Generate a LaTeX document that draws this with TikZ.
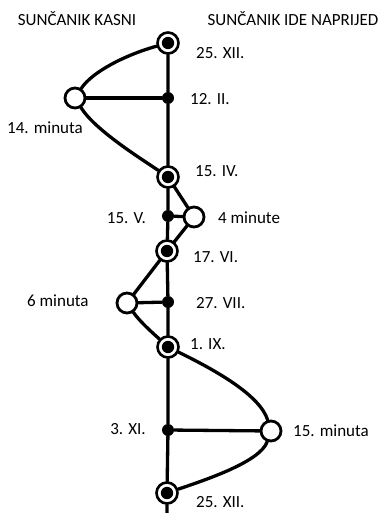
\documentclass[tikz,border=0pt]{standalone}
\usepackage{fontspec}
\setmainfont{Carlito}
\begin{document}
\begin{tikzpicture}[x=1pt,y=-1pt,
  ln/.style={line width=3.3pt, line cap=round},
  big/.style={circle, draw=black, line width=2.6pt, fill=white, minimum size=21pt, inner sep=0pt,
    path picture={\fill[black] (path picture bounding box.center) circle (6.2pt);}},
  blackdot/.style={circle, fill=black, minimum size=12pt, inner sep=0pt},
  wc/.style={circle, draw=black, line width=2.8pt, fill=white, minimum size=20pt, inner sep=0pt},
  lbl/.style={font=\fontsize{17}{19}\selectfont, inner sep=0pt}]
\useasboundingbox (0,0) rectangle (386,513);
% nodes
\node[big] (t1) at (168,43) {};
\node[blackdot] (d1) at (168,98) {};
\node[wc] (w1) at (75,98) {};
\node[big] (t2) at (168,177) {};
\node[blackdot] (d2) at (168,216) {};
\node[wc] (w2) at (194,217) {};
\node[big] (t3) at (167,251) {};
\node[blackdot] (d3) at (168,302) {};
\node[wc] (w3) at (127,303) {};
\node[big] (t4) at (168,347) {};
\node[blackdot] (d4) at (168,430) {};
\node[wc] (w4) at (271,431) {};
\node[big] (t5) at (167,493) {};
\coordinate (bot) at (167,515);
% axis
\draw[ln] (t1) -- (d1) -- (t2) -- (d2) -- (t3) -- (d3) -- (t4) -- (d4) -- (t5) -- (bot);
% horizontals
\draw[ln] (d1) -- (w1);
\draw[ln] (d2) -- (w2);
\draw[ln] (d3) -- (w3);
\draw[ln] (d4) -- (w4);
% loops
\draw[ln] (t1) .. controls (125,55) and (92,72) .. (w1);
\draw[ln] (w1) .. controls (95,130) and (140,158) .. (t2);
\draw[ln] (t2) -- (w2);
\draw[ln] (w2) -- (t3);
\draw[ln] (t3) -- (w3);
\draw[ln] (w3) .. controls (140,322) and (155,335) .. (t4);
\draw[ln] (t4) .. controls (215,370) and (260,395) .. (w4);
\draw[ln] (w4) .. controls (260,462) and (205,480) .. (t5);
% labels
\node[lbl] (h1) at (77,19) {SUNČANIK KASNI};
\node[lbl] (h2) at (293,19) {SUNČANIK IDE NAPRIJED};
\node[lbl, anchor=west] (l1) at (196,53) {25. XII.};
\node[lbl, anchor=west] (l2) at (190,99) {12. II.};
\node[lbl, anchor=west] (l3) at (7,128) {14. minuta};
\node[lbl, anchor=west] (l4) at (195,171) {15. IV.};
\node[lbl, anchor=east] (l5) at (146,218) {15. V.};
\node[lbl, anchor=west] (l6) at (218,218) {4 minute};
\node[lbl, anchor=west] (l7) at (193,257) {17. VI.};
\node[lbl, anchor=west] (l8) at (27,301) {6 minuta};
\node[lbl, anchor=west] (l9) at (196,303) {27. VII.};
\node[lbl, anchor=west] (l10) at (190,344) {1. IX.};
\node[lbl, anchor=east] (l11) at (146,429) {3. XI.};
\node[lbl, anchor=west] (l12) at (293,431) {15. minuta};
\node[lbl, anchor=west] (l13) at (196,502) {25. XII.};
\end{tikzpicture}
\end{document}
